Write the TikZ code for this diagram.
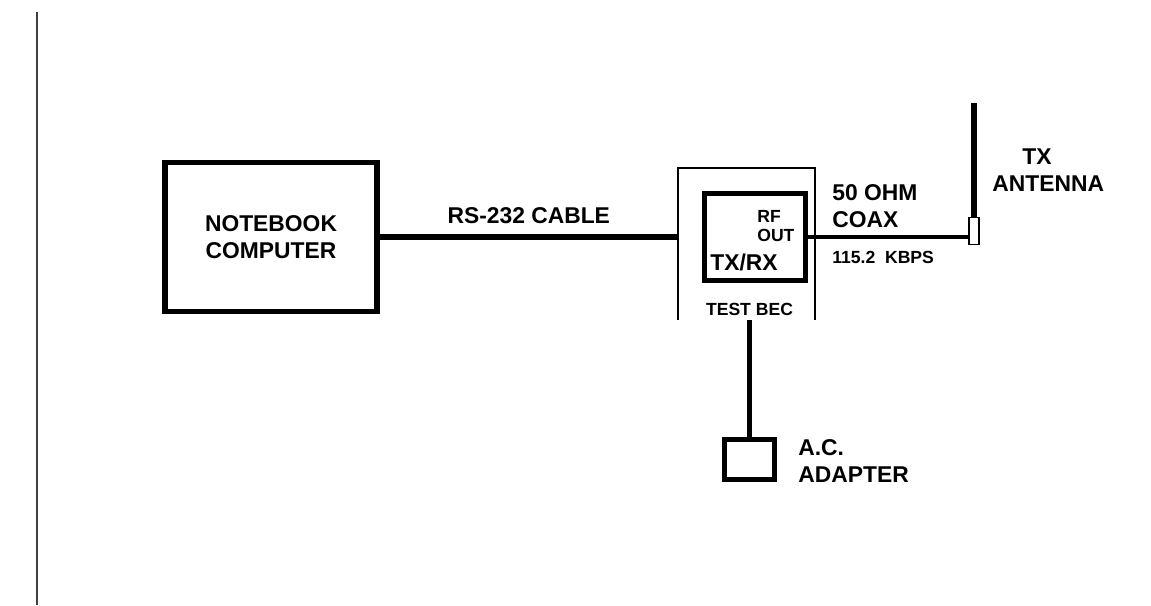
\documentclass[tikz,border=0pt]{standalone}
\usepackage{fontspec}
\setmainfont{Liberation Sans}
\usetikzlibrary{positioning,calc}
\tikzset{
  unit/.style={
    draw=black,
    line width=3.3pt,
    align=center,
    inner sep=0pt,
    font=\fontsize{13}{15}\selectfont\bfseries
  },
  shell/.style={line width=1pt, draw=black},
  wire/.style={line width=2.9pt},
  coax/.style={line width=2.4pt},
  biglabel/.style={inner sep=0pt, align=left, font=\fontsize{13}{15}\selectfont\bfseries},
  smalllabel/.style={inner sep=0pt, align=left, font=\fontsize{10}{11}\selectfont\bfseries}
}
\begin{document}
\begin{tikzpicture}[x=0.02cm, y=-0.02cm]
  \useasboundingbox (0,0) rectangle (1151,605);
  \draw[line width=1.1pt, black!75] (37,12) -- (37,605);

  \node[unit, minimum width=212*0.02cm, minimum height=149*0.02cm] (notebook) at (271,237) {NOTEBOOK\\COMPUTER};
  \node[minimum width=137*0.02cm, minimum height=152*0.02cm, inner sep=0pt] (bec) at (746.5,244) {};
  \node[unit, line width=2.8pt, minimum width=101*0.02cm, minimum height=87*0.02cm] (txrx) at (755,237) {};
  \node[draw=black, line width=0.9pt, minimum width=10*0.02cm, minimum height=27*0.02cm, inner sep=0pt] (base) at (974,231) {};
  \coordinate (tip) at (974,103);
  \node[unit, line width=3pt, minimum width=50*0.02cm, minimum height=40*0.02cm] (adapter) at (749.5,459.5) {};

  \draw[shell] (bec.south west) -- (bec.north west) -- (bec.north east) -- (bec.south east);
  \node[smalllabel, anchor=south] (beclabel) at ($(bec.south)+(3,-4)$) {TEST BEC};
  \node[smalllabel, anchor=west] (rfout) at (757,226) {RF\\OUT};
  \node[biglabel] (txrxlabel) at (744,262) {TX/RX};

  \draw[wire] (notebook.east) -- node[biglabel, above=2.2mm] (cablelabel) {RS-232 CABLE} (notebook.east -| bec.west);
  \draw[coax] (txrx.east) -- (txrx.east -| base.west);
  \draw[line width=3.2pt] (base.north) -- (tip);
  \draw[wire] (adapter.north |- bec.south) -- (adapter.north);

  \node[biglabel, anchor=west] (coaxlabel) at (832,206) {50 OHM\\COAX};
  \node[smalllabel, anchor=west] (ratelabel) at (832,257) {115.2\ \ KBPS};
  \node[biglabel, anchor=west] (antlabel) at (992,170) {\hspace*{0.6cm}TX\\ANTENNA};
  \node[biglabel, anchor=west] (adlabel) at (798,461) {A.C.\\ADAPTER};
\end{tikzpicture}
\end{document}
